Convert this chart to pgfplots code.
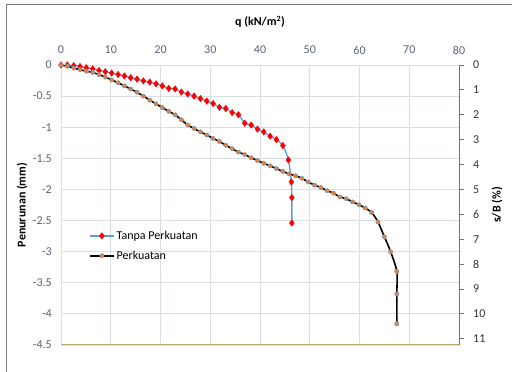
\documentclass[border=0pt]{standalone}
\usepackage{fontspec}
\setmainfont{Carlito}
\usepackage{pgfplots}
\pgfplotsset{compat=1.18}
\definecolor{gridc}{RGB}{217,221,230}
\definecolor{tickc}{RGB}{89,98,117}
\definecolor{blueL}{RGB}{91,155,213}
\definecolor{orangeM}{RGB}{237,125,49}
\definecolor{markedge}{RGB}{132,151,176}
\definecolor{basec}{RGB}{191,168,110}
\definecolor{framec}{RGB}{120,120,120}
\begin{document}
\begin{tikzpicture}[x=1pt,y=1pt]
\useasboundingbox (-61,-27) rectangle (451,345);
\draw[framec, line width=1pt] (-54,-27) -- (-54,340) -- (451,340);
\begin{axis}[
  at={(0,0)}, anchor=south west,
  scale only axis, width=398pt, height=280pt,
  xmin=0, xmax=80, ymin=-4.5, ymax=0,
  xtick={0,10,...,80}, ytick={-4.5,-4,...,0},
  xticklabel pos=top,
  axis line style={draw=none},
  tick style={draw=none},
  grid=major, grid style={gridc, line width=0.8pt},
  /pgf/number format/assume math mode=true,
  ticklabel style={font=\fontsize{12}{14}\selectfont, text=tickc},
  xticklabel style={anchor=center, yshift=15pt},
  yticklabel style={anchor=east, inner sep=0pt, xshift=-9pt},
  title={\textbf{q (kN/m\textsuperscript{2})}},
  title style={at={(axis description cs:0.5,1.132)}, anchor=center, font=\fontsize{12}{14}\selectfont},
  ylabel={\textbf{Penurunan (mm)}},
  ylabel style={at={(axis description cs:-0.098,0.5)}, rotate=0, anchor=center, font=\fontsize{12}{14}\selectfont},
  legend style={at={(axis description cs:0.07,0.415)}, anchor=north west, draw=none, fill=none,
     font=\fontsize{12}{14}\selectfont, inner sep=0pt, row sep=6pt, cells={anchor=west}},
  legend image code/.code={
    \draw[mark repeat=2,mark phase=2,#1] plot coordinates {(0pt,0pt) (12pt,0pt) (24pt,0pt)};
  },
]
\addplot[blueL, line width=1.3pt, smooth, tension=0.5, mark=diamond*, mark size=3.2pt,
  mark options={draw=red, fill=red, line width=0.5pt}] coordinates {
(0,0) (1.27,0) (2.55,-0.01) (3.82,-0.025) (5.10,-0.045) (6.37,-0.062) (7.64,-0.088)
(8.92,-0.108) (10.19,-0.13) (11.47,-0.153) (12.74,-0.176) (14.01,-0.205) (15.29,-0.228)
(16.56,-0.256) (17.84,-0.275) (19.11,-0.303) (20.38,-0.336) (21.66,-0.376) (22.93,-0.385)
(24.2,-0.435) (25.48,-0.466) (26.75,-0.50) (28.03,-0.54) (29.3,-0.58) (30.57,-0.62)
(31.85,-0.68) (33.12,-0.70) (34.4,-0.765) (35.67,-0.80) (36.94,-0.935) (38.22,-0.965)
(39.49,-1.03) (40.76,-1.075) (42.04,-1.145) (43.31,-1.2) (44.59,-1.295) (45.7,-1.525)
(46.3,-1.88) (46.4,-2.13) (46.4,-2.54)
};
\addlegendentry{Tanpa Perkuatan}
\addplot[black, line width=1.6pt, smooth, tension=0.5, mark=*, mark size=2.1pt,
  mark options={fill=orangeM, draw=markedge, line width=0.6pt}] coordinates {
(0,0) (1.27,-0.02) (2.55,-0.05) (3.82,-0.075) (5.10,-0.10) (6.37,-0.12) (7.64,-0.155)
(8.92,-0.195) (10.19,-0.24) (11.47,-0.285) (12.74,-0.335) (14.01,-0.385) (15.29,-0.44)
(16.56,-0.50) (17.84,-0.565) (19.11,-0.625) (20.38,-0.685) (21.66,-0.745) (22.93,-0.80)
(24.2,-0.88) (25.48,-0.965) (26.75,-1.02) (28.03,-1.075) (29.3,-1.125) (30.57,-1.18)
(31.85,-1.23) (33.12,-1.29) (34.4,-1.345) (35.67,-1.40) (36.94,-1.44) (38.22,-1.49)
(39.49,-1.535) (40.76,-1.58) (42.04,-1.62) (43.31,-1.665) (44.59,-1.71) (45.86,-1.75)
(47.14,-1.78) (48.41,-1.82) (49.69,-1.88) (50.96,-1.93) (52.23,-1.97) (53.51,-2.02)
(54.78,-2.06) (56.06,-2.12) (57.33,-2.15) (58.6,-2.20) (59.88,-2.245) (61.15,-2.30)
(62.43,-2.37) (63.7,-2.52) (65.0,-2.76) (66.25,-3.0) (67.5,-3.32) (67.5,-3.68) (67.5,-4.16)
};
\addlegendentry{Perkuatan}
\draw[basec, line width=1.2pt] (rel axis cs:0,0) -- (rel axis cs:1,0);
\end{axis}
\begin{axis}[
  at={(0,0)}, anchor=south west,
  scale only axis, width=398pt, height=280pt,
  xmin=0, xmax=80, ymin=0, ymax=11.25, y dir=reverse,
  axis x line=none, axis y line*=right,
  ytick={0,1,...,11},
  /pgf/number format/assume math mode=true,
  tick align=outside, major tick length=5pt,
  ytick style={black!55, line width=0.8pt},
  y axis line style={black!55, line width=0.8pt},
  yticklabel style={font=\fontsize{12}{14}\selectfont, text=black!80, anchor=west, inner sep=0pt, xshift=9pt},
  ylabel={\textbf{s/B (\%)}},
  ylabel style={at={(axis description cs:1.0955,0.5)}, rotate=0, anchor=center, font=\fontsize{12}{14}\selectfont},
]
\end{axis}
\end{tikzpicture}
\end{document}
